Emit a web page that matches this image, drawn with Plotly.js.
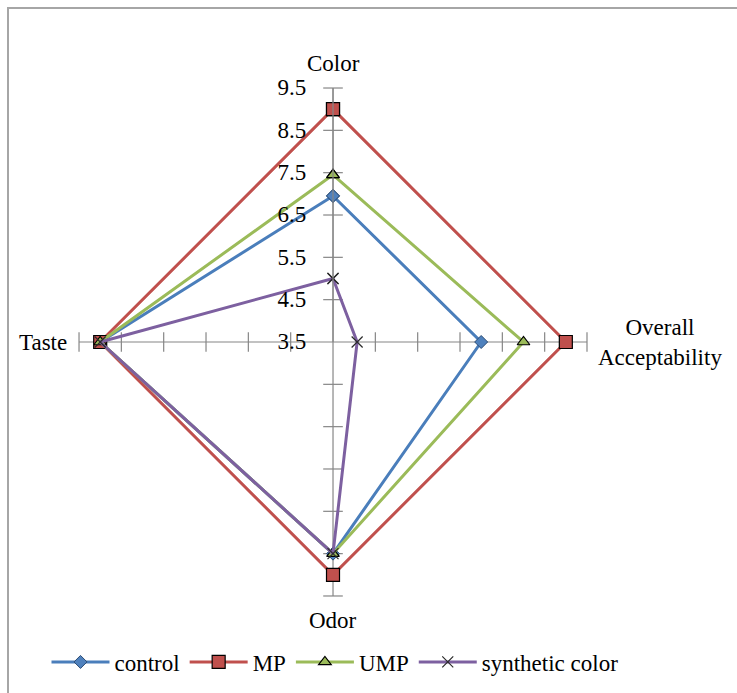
<!DOCTYPE html>
<html>
<head>
<meta charset="utf-8">
<script src="https://cdn.plot.ly/plotly-3.0.1.min.js"></script>
<style>html,body{margin:0;padding:0;background:#fff;}#chart{width:737px;height:693px;}</style>
</head>
<body>
<div id="chart"></div>
<script>
// Attributes (clockwise from top)
const categories = ["Color", "Overall Acceptability", "Odor", "Taste"];
const categoryLabels = ["Color", "Overall<br>Acceptability", "Odor", "Taste"];
const control   = [6.95, 7.0, 8.5, 9.0];
const mp        = [9.0, 9.0, 9.0, 9.0];
const ump       = [7.45, 8.0, 8.5, 9.0];
const synthetic = [5.0, 4.07, 8.5, 9.0];
const seriesNames = ["control", "MP", "UMP", "synthetic color"];
const radialTicks = [3.5, 4.5, 5.5, 6.5, 7.5, 8.5, 9.5];

function closed(a) { return a.concat([a[0]]); }
const thetaClosed = closed(categories);

// cross tick marks on every spoke (skip the centre value)
const crossTheta = [], crossR = [], crossSym = [];
categories.forEach((c, i) => {
  radialTicks.slice(1).forEach(v => {
    crossTheta.push(c); crossR.push(v);
    crossSym.push(i % 2 === 0 ? "line-ew" : "line-ns");
  });
});

const traces = [
  {type: "scatterpolar", r: crossR, theta: crossTheta, mode: "markers",
   marker: {symbol: crossSym, size: 14, color: "#868686", line: {color: "#868686", width: 1.2}},
   showlegend: false, hoverinfo: "skip"},
  {type: "scatterpolar", name: seriesNames[0], r: closed(control), theta: thetaClosed, mode: "lines+markers",
   line: {color: "#4A7EBB", width: 3},
   marker: {symbol: "diamond", size: 10, color: "#4F81BD", line: {color: "#2C4D75", width: 1}}},
  {type: "scatterpolar", name: seriesNames[1], r: closed(mp), theta: thetaClosed, mode: "lines+markers",
   line: {color: "#C0504D", width: 3},
   marker: {symbol: "square", size: 13, color: "#C0504D", line: {color: "#000000", width: 1.2}}},
  {type: "scatterpolar", name: seriesNames[2], r: closed(ump), theta: thetaClosed, mode: "lines+markers",
   line: {color: "#9BBB59", width: 3},
   marker: {symbol: "triangle-up", size: 11, color: "#9BBB59", line: {color: "#000000", width: 1.2}}},
  {type: "scatterpolar", name: seriesNames[3], r: closed(synthetic), theta: thetaClosed, mode: "lines+markers",
   line: {color: "#7D60A0", width: 3},
   marker: {symbol: "x-thin", size: 11, color: "#2b2b2b", line: {color: "#2b2b2b", width: 1.2}}}
];

const serif = "Liberation Serif";
const txt = {family: serif, size: 23, color: "#000"};

const layout = {
  width: 737, height: 693,
  margin: {l: 0, r: 0, t: 0, b: 0},
  paper_bgcolor: "#ffffff",
  font: txt,
  showlegend: true,
  legend: {orientation: "h", x: 335 / 737, xanchor: "center", y: (693 - 662) / 693, yanchor: "middle",
           font: txt, itemwidth: 58, traceorder: "normal", bgcolor: "rgba(0,0,0,0)"},
  polar: {
    domain: {x: [0.1072, 0.7965], y: [0.140, 0.873]},
    bgcolor: "rgba(0,0,0,0)",
    gridshape: "linear",
    angularaxis: {
      type: "category", rotation: 90, direction: "clockwise",
      showline: false, showgrid: true, gridcolor: "#868686", gridwidth: 1.2,
      ticks: "", showticklabels: false
    },
    radialaxis: {
      range: [3.5, 9.5], angle: 90, side: "counterclockwise", tickangle: 90,
      tickmode: "array", tickvals: radialTicks, ticktext: radialTicks.map(v => v.toFixed(1)),
      showgrid: false, showline: true, linecolor: "#868686", linewidth: 1.2,
      ticks: "outside", ticklen: 18, tickcolor: "rgba(0,0,0,0)",
      tickfont: txt
    }
  },
  annotations: [
    {text: categoryLabels[0], xref: "paper", yref: "paper", x: 333 / 737, y: (693 - 63) / 693,
     xanchor: "center", yanchor: "middle", showarrow: false, font: txt},
    {text: categoryLabels[1], xref: "paper", yref: "paper", x: 660 / 737, y: (693 - 342) / 693,
     xanchor: "center", yanchor: "middle", align: "center", showarrow: false, font: txt},
    {text: categoryLabels[2], xref: "paper", yref: "paper", x: 333 / 737, y: (693 - 620) / 693,
     xanchor: "center", yanchor: "middle", showarrow: false, font: txt},
    {text: categoryLabels[3], xref: "paper", yref: "paper", x: 69 / 737, y: (693 - 342) / 693,
     xanchor: "right", yanchor: "middle", showarrow: false, font: txt}
  ],
  shapes: [
    {type: "rect", xref: "paper", yref: "paper", x0: 8 / 737, x1: 1.02, y0: -0.02, y1: (693 - 8) / 693,
     line: {color: "#A6A6A6", width: 2}, fillcolor: "rgba(0,0,0,0)"}
  ]
};

Plotly.newPlot("chart", traces, layout, {displayModeBar: false, staticPlot: true});
</script>
</body>
</html>
